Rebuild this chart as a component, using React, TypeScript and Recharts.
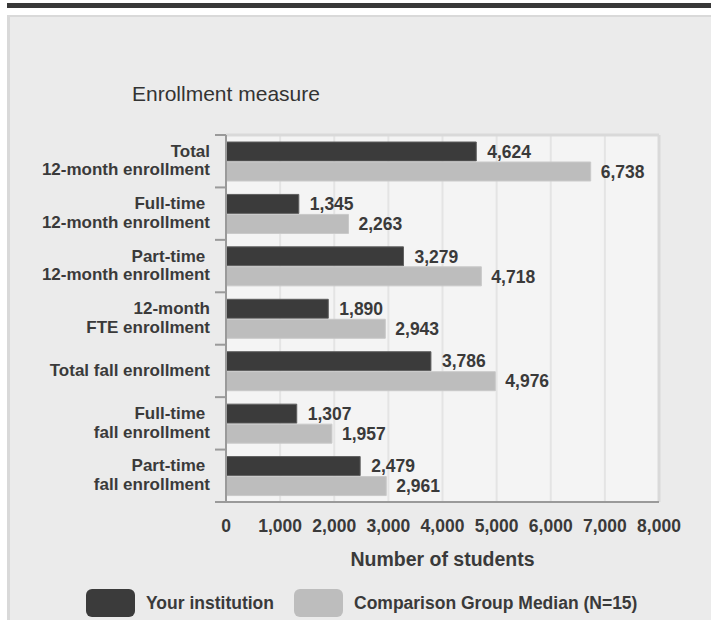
import React from "react";
import {
  BarChart,
  Bar,
  XAxis,
  YAxis,
  CartesianGrid,
  LabelList,
  Legend,
  ReferenceLine,
} from "recharts";

const categories = [
  "Total 12-month enrollment",
  "Full-time 12-month enrollment",
  "Part-time 12-month enrollment",
  "12-month FTE enrollment",
  "Total fall enrollment",
  "Full-time fall enrollment",
  "Part-time fall enrollment",
];
const categoryLines = [
  ["Total", "12-month enrollment"],
  ["Full-time ", "12-month enrollment"],
  ["Part-time ", "12-month enrollment"],
  ["12-month", "FTE enrollment"],
  ["Total fall enrollment"],
  ["Full-time ", "fall enrollment"],
  ["Part-time ", "fall enrollment"],
];
const yourInstitution = [4624, 1345, 3279, 1890, 3786, 1307, 2479];
const comparisonMedian = [6738, 2263, 4718, 2943, 4976, 1957, 2961];
const xTicks = [0, 1000, 2000, 3000, 4000, 5000, 6000, 7000, 8000];

const seriesNames = ["Your institution", "Comparison Group Median (N=15)"];
const titleText = "Enrollment measure";
const xAxisTitle = "Number of students";

const data = categories.map((name, i) => ({
  name,
  yours: yourInstitution[i],
  median: comparisonMedian[i],
}));

const FONT = '"Liberation Sans", Arial, Helvetica, sans-serif';
const TEXT = "#3a3a3a";
const AXIS = "#9a9a9a";
const W = 711;
const H = 620;
const M = { top: 135, right: 52, bottom: 58, left: 0 };
const X_AXIS_H = 60;
const Y_AXIS_W = 226;
const TICK_SIZE = 11;
const TICK_MARGIN = 5;
const PLOT_H = H - M.top - M.bottom - X_AXIS_H;
const HALF_BAND = PLOT_H / categories.length / 2;

const fmt = (v: any) => Number(v).toLocaleString("en-US");

function CategoryTick(props: any) {
  const { x, y, payload, index } = props;
  const lines = categoryLines[index] || [String(payload.value)];
  const half = payload && typeof payload.offset === "number" && payload.offset > 0 ? payload.offset : HALF_BAND;
  const lh = 18.5;
  const startY = y - ((lines.length - 1) * lh) / 2 - 1;
  const lx1 = x + TICK_MARGIN;
  const lx2 = x + TICK_MARGIN + TICK_SIZE;
  return (
    <g>
      <line x1={lx1} x2={lx2} y1={y - half} y2={y - half} stroke={AXIS} strokeWidth={2} />
      {index === categories.length - 1 && (
        <line x1={lx1} x2={lx2} y1={y + half} y2={y + half} stroke={AXIS} strokeWidth={2} />
      )}
      <text
        x={x}
        y={startY}
        textAnchor="end"
        fill={TEXT}
        fontSize={17}
        fontWeight="bold"
        fontFamily={FONT}
        style={{ whiteSpace: "pre" }}
      >
        {lines.map((l, i) => (
          <tspan key={i} x={x} dy={i === 0 ? "0.35em" : lh} style={{ whiteSpace: "pre" }}>
            {l}
          </tspan>
        ))}
      </text>
    </g>
  );
}

function XTick(props: any) {
  const { x, y, payload } = props;
  return (
    <text
      x={x}
      y={y}
      dy="0.71em"
      textAnchor="middle"
      fill={TEXT}
      fontSize={17.5}
      fontWeight="bold"
      fontFamily={FONT}
    >
      {fmt(payload.value)}
    </text>
  );
}

function renderLegend(props: any) {
  const items = [...(props.payload || [])].sort(
    (a: any, b: any) => seriesNames.indexOf(a.value) - seriesNames.indexOf(b.value)
  );
  return (
    <div style={{ display: "flex", alignItems: "center", fontFamily: FONT }}>
      {items.map((p: any, i: number) => (
        <div key={i} style={{ display: "flex", alignItems: "center", marginRight: 20 }}>
          <div
            style={{
              width: 49,
              height: 28,
              borderRadius: 6,
              background: p.color,
              marginRight: 11,
            }}
          />
          <span style={{ fontSize: 17.5, fontWeight: "bold", color: TEXT, whiteSpace: "nowrap" }}>
            {p.value}
          </span>
        </div>
      ))}
    </div>
  );
}

export default function App() {
  return (
    <div
      style={{
        position: "absolute",
        left: 0,
        top: 0,
        width: W,
        height: H,
        overflow: "hidden",
        background: "#ffffff",
      }}
    >
      <div style={{ position: "absolute", left: 7, top: 3, width: W - 7, height: 5, background: "#383838" }} />
      <div
        style={{
          position: "absolute",
          left: 7,
          top: 15,
          width: W + 20,
          height: H + 20,
          background: "#ebebeb",
          borderLeft: "3px solid #d9d9d9",
          borderTop: "2px solid #d9d9d9",
        }}
      />
      <div
        style={{
          position: "absolute",
          left: 132,
          top: 83,
          fontSize: 21,
          lineHeight: "21px",
          color: "#333",
          fontFamily: FONT,
          whiteSpace: "nowrap",
        }}
      >
        {titleText}
      </div>
      <div style={{ position: "absolute", left: 0, top: 0 }}>
        <BarChart
          width={W}
          height={H}
          data={data}
          layout="vertical"
          margin={M}
          barCategoryGap={7}
          barGap={1}
        >
          <CartesianGrid
            horizontal={false}
            vertical={true}
            fill="#f4f4f4"
            stroke="#e4e4e4"
            strokeWidth={2}
          />
          <ReferenceLine x={8000} stroke="#d9d9d9" strokeWidth={3} />
          <ReferenceLine y={categories[0]} position="start" stroke="#d9d9d9" strokeWidth={3} />
          <XAxis
            type="number"
            domain={[0, 8000]}
            ticks={xTicks}
            interval={0}
            height={X_AXIS_H}
            axisLine={{ stroke: AXIS, strokeWidth: 2 }}
            tickLine={false}
            tickSize={6}
            tickMargin={12}
            tick={<XTick />}
            label={{
              content: (lp: any) => {
                const vb = lp.viewBox || {};
                return (
                  <text
                    x={vb.x + vb.width / 2}
                    y={vb.y + 64}
                    textAnchor="middle"
                    fill={TEXT}
                    fontSize={19.5}
                    fontWeight="bold"
                    fontFamily={FONT}
                  >
                    {xAxisTitle}
                  </text>
                );
              },
            }}
          />
          <YAxis
            type="category"
            dataKey="name"
            width={Y_AXIS_W}
            axisLine={{ stroke: AXIS, strokeWidth: 2 }}
            tickLine={false}
            tickSize={TICK_SIZE}
            tickMargin={TICK_MARGIN}
            interval={0}
            tick={<CategoryTick />}
          />
          <Legend
            layout="horizontal"
            verticalAlign="middle"
            align="center"
            wrapperStyle={{ left: 86, top: 589, width: 600, height: 28 }}
            content={renderLegend}
          />
          <Bar
            dataKey="yours"
            name={seriesNames[0]}
            fill="#3b3b3b"
            stroke="#5f5f5f"
            strokeWidth={1}
            isAnimationActive={false}
          >
            <LabelList
              dataKey="yours"
              position="right"
              offset={11}
              formatter={fmt}
              fill={TEXT}
              fontSize={17.5}
              fontWeight="bold"
              fontFamily={FONT}
            />
          </Bar>
          <Bar
            dataKey="median"
            name={seriesNames[1]}
            fill="#bdbdbd"
            stroke="#c9c9c9"
            strokeWidth={1}
            isAnimationActive={false}
          >
            <LabelList
              dataKey="median"
              position="right"
              offset={10}
              formatter={fmt}
              fill={TEXT}
              fontSize={17.5}
              fontWeight="bold"
              fontFamily={FONT}
            />
          </Bar>
        </BarChart>
      </div>
    </div>
  );
}
